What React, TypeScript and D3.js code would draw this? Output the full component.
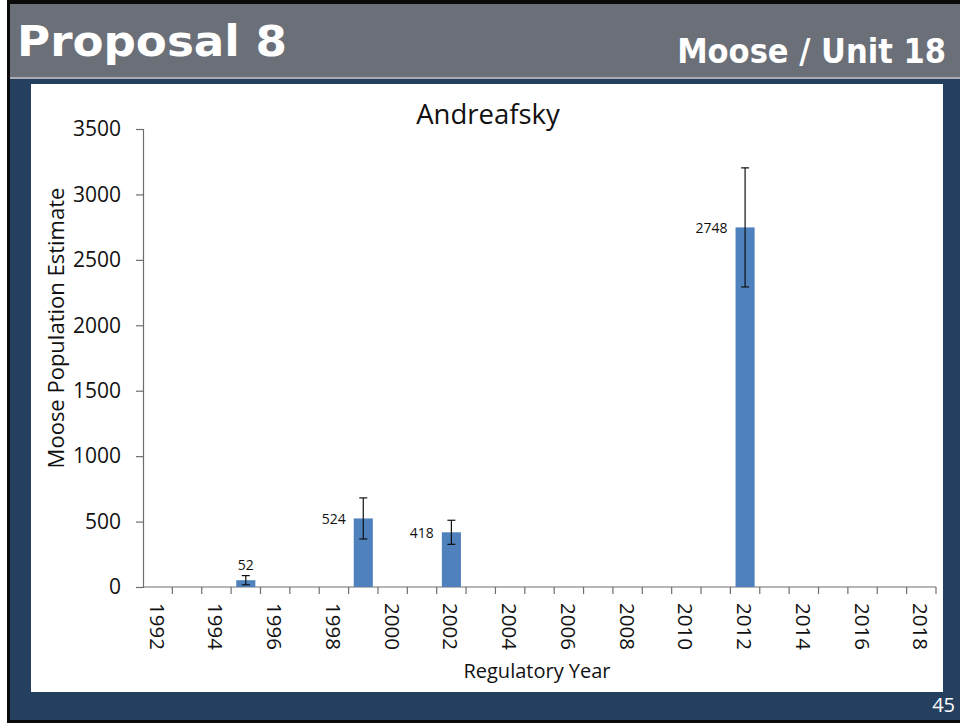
import { useEffect, useRef } from 'react'
import * as d3 from 'd3'

// chart data
const years = d3.range(1992, 2019).map(String)
const estimateYears = ['1995', '1999', '2002', '2012']
const estimates = [52, 524, 418, 2748]
const errors = [35, 157, 92, 455]
const yTicks = [0, 500, 1000, 1500, 2000, 2500, 3000, 3500]
const xLabels = years.filter((_, i) => i % 2 === 0)

const App = () => {
  const chartRef = useRef<SVGSVGElement>(null)

  useEffect(() => {
    const w = 960
    const h = 723
    const svg = d3.select(chartRef.current)
    svg.selectAll('*').remove()
    svg.attr('width', w).attr('height', h)

    // slide frame
    svg.append('rect').attr('width', w).attr('height', h).attr('fill', '#ffffff')
    svg.append('rect').attr('x', 7).attr('y', 0).attr('width', w).attr('height', 723).attr('fill', '#0a0a0a')
    svg.append('rect').attr('x', 10).attr('y', 4).attr('width', w).attr('height', 74).attr('fill', '#6a6f78')
    svg.append('rect').attr('x', 10).attr('y', 77).attr('width', w).attr('height', 2).attr('fill', '#a9adb3')
    svg.append('rect').attr('x', 10).attr('y', 79).attr('width', w).attr('height', 641).attr('fill', '#253f5f')
    svg.append('rect').attr('x', 31).attr('y', 84).attr('width', 912).attr('height', 608).attr('fill', '#ffffff')

    svg.append('text')
      .attr('x', 17).attr('y', 56)
      .attr('font-family', 'DejaVu Sans').attr('font-weight', 'bold')
      .attr('font-size', 43)
      .attr('textLength', 270).attr('lengthAdjust', 'spacingAndGlyphs')
      .attr('fill', '#ffffff')
      .text('Proposal 8')

    svg.append('text')
      .attr('x', 946).attr('y', 63)
      .attr('text-anchor', 'end')
      .attr('font-family', 'DejaVu Sans').attr('font-weight', 'bold')
      .attr('font-stretch', 'condensed')
      .attr('font-size', 34)
      .attr('fill', '#ffffff')
      .text('Moose / Unit 18')

    svg.append('text')
      .attr('x', 955).attr('y', 712)
      .attr('text-anchor', 'end')
      .attr('font-family', 'Open Sans').attr('font-size', 20)
      .attr('fill', '#ffffff')
      .text('45')

    // scales
    const left = 143
    const right = 936
    const top = 129
    const bottom = 587
    const font = 'Open Sans'

    const x = d3.scaleBand().domain(years).range([left, right])
    const y = d3.scaleLinear().domain([0, 3500]).range([bottom, top])
    const barW = x.bandwidth() * 0.65

    // y axis
    const yAxis = svg.append('g')
      .attr('transform', `translate(${left},0)`)
      .call(d3.axisLeft(y).tickValues(yTicks).tickSize(7).tickPadding(15).tickFormat(d3.format('d')))
    yAxis.selectAll('path, line').attr('stroke', '#6e6e6e').attr('stroke-width', 1.2)
    yAxis.selectAll('text').attr('font-family', font).attr('font-size', 21).attr('fill', '#111')

    // x axis: ticks at category boundaries
    const xg = svg.append('g')
    xg.append('line')
      .attr('x1', left).attr('x2', right).attr('y1', bottom).attr('y2', bottom)
      .attr('stroke', '#6e6e6e').attr('stroke-width', 1.2)
    xg.selectAll('line.tick')
      .data(years)
      .enter()
      .append('line')
      .attr('class', 'tick')
      .attr('x1', d => (x(d) as number) + x.bandwidth())
      .attr('x2', d => (x(d) as number) + x.bandwidth())
      .attr('y1', bottom).attr('y2', bottom + 7)
      .attr('stroke', '#6e6e6e').attr('stroke-width', 1.2)
    xg.selectAll('text')
      .data(xLabels)
      .enter()
      .append('text')
      .attr('transform', d => `translate(${(x(d) as number) + x.bandwidth() / 2},603) rotate(90)`)
      .attr('dominant-baseline', 'central')
      .attr('font-family', font).attr('font-size', 20.5).attr('fill', '#111')
      .text(d => d)

    // bars
    const rows = estimateYears.map((yr, i) => ({ yr, v: estimates[i], e: errors[i] }))
    const cx = (d: { yr: string }) => (x(d.yr) as number) + x.bandwidth() / 2

    svg.selectAll('rect.bar')
      .data(rows)
      .enter()
      .append('rect')
      .attr('class', 'bar')
      .attr('x', d => cx(d) - barW / 2)
      .attr('y', d => y(d.v))
      .attr('width', barW)
      .attr('height', d => bottom - y(d.v))
      .attr('fill', '#4f81bd')

    // error bars
    const eb = svg.selectAll('g.err').data(rows).enter().append('g').attr('class', 'err')
      .attr('stroke', '#111').attr('stroke-width', 1.2)
    eb.append('line')
      .attr('x1', cx).attr('x2', cx)
      .attr('y1', d => y(d.v + d.e)).attr('y2', d => y(d.v - d.e))
    eb.append('line')
      .attr('x1', d => cx(d) - 4).attr('x2', d => cx(d) + 4)
      .attr('y1', d => y(d.v + d.e)).attr('y2', d => y(d.v + d.e))
    eb.append('line')
      .attr('x1', d => cx(d) - 4).attr('x2', d => cx(d) + 4)
      .attr('y1', d => y(d.v - d.e)).attr('y2', d => y(d.v - d.e))

    // value labels: small value above, the rest left of the bar top
    svg.selectAll('text.val')
      .data(rows)
      .enter()
      .append('text')
      .attr('class', 'val')
      .attr('x', d => (d.v < 100 ? cx(d) : cx(d) - barW / 2 - 8))
      .attr('y', d => (d.v < 100 ? y(d.v) - 16 : y(d.v)))
      .attr('text-anchor', d => (d.v < 100 ? 'middle' : 'end'))
      .attr('dominant-baseline', 'central')
      .attr('font-family', font).attr('font-size', 14).attr('fill', '#111')
      .text(d => d.v)

    // titles
    svg.append('text')
      .attr('x', 488).attr('y', 124)
      .attr('text-anchor', 'middle')
      .attr('font-family', font).attr('font-size', 27.5).attr('fill', '#111')
      .text('Andreafsky')

    svg.append('text')
      .attr('transform', `translate(64,328) rotate(-90)`)
      .attr('text-anchor', 'middle')
      .attr('font-family', font).attr('font-size', 22).attr('fill', '#111')
      .text('Moose Population Estimate')

    svg.append('text')
      .attr('x', 537).attr('y', 678)
      .attr('text-anchor', 'middle')
      .attr('font-family', font).attr('font-size', 20).attr('fill', '#111')
      .text('Regulatory Year')
  }, [])

  return (
    <div style={{ position: 'absolute', left: 0, top: 0 }}>
      <svg ref={chartRef} style={{ display: 'block' }}></svg>
    </div>
  )
}

export default App
